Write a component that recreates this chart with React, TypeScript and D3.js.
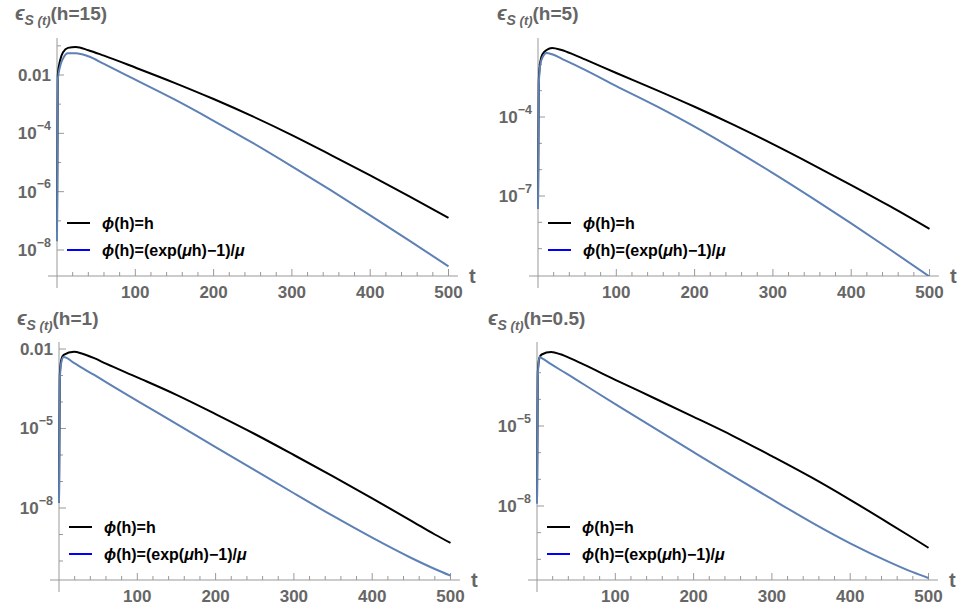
import React from 'react';
import * as d3 from 'd3';

// time samples and read-off values (error) for each panel
const T_H15 = [0, 1, 4, 8, 14, 24, 40, 60, 100, 150, 200, 250, 300, 350, 400, 450, 500];
const H15_LINEAR = [4e-8, 1e-2, 3.2e-2, 6.2e-2, 8.5e-2, 9.1e-2, 7.1e-2, 4.6e-2, 1.8e-2, 5.4e-3, 1.5e-3, 3.8e-4, 8.7e-5, 1.8e-5, 3.6e-6, 6.9e-7, 1.26e-7];
const H15_EXP = [2e-8, 6.8e-3, 2.0e-2, 3.8e-2, 5.6e-2, 5.6e-2, 4.4e-2, 2.4e-2, 6.9e-3, 1.45e-3, 2.7e-4, 4.7e-5, 7.4e-6, 1.1e-6, 1.55e-7, 2.1e-8, 2.75e-9];

const T_H5 = [0, 1, 3, 6, 11, 18, 30, 45, 60, 100, 150, 200, 250, 300, 350, 400, 450, 500];
const H5_LINEAR = [5e-8, 2.5e-3, 1.26e-2, 2.5e-2, 3.5e-2, 4.2e-2, 3.5e-2, 2.4e-2, 1.55e-2, 4.7e-3, 1.1e-3, 2.45e-4, 5.0e-5, 9.3e-6, 1.6e-6, 2.6e-7, 4.0e-8, 5.6e-9];
const H5_EXP = [3.2e-8, 1.6e-3, 1.0e-2, 1.9e-2, 2.7e-2, 2.4e-2, 1.66e-2, 1.02e-2, 6.2e-3, 1.5e-3, 2.7e-4, 4.3e-5, 5.9e-6, 7.4e-7, 8.5e-8, 9.1e-9, 9.1e-10, 8.7e-11];

const T_H1 = [0, 1, 3, 6, 19, 30, 45, 60, 100, 150, 200, 250, 300, 350, 400, 450, 480, 500];
const H1_LINEAR = [1.6e-8, 1e-3, 4e-3, 6e-3, 7.8e-3, 6.6e-3, 4.5e-3, 2.8e-3, 8.5e-4, 1.86e-4, 3.5e-5, 6.2e-6, 1.0e-6, 1.55e-7, 2.3e-8, 3.3e-9, 1.0e-9, 4.8e-10];
const H1_EXP = [1.6e-8, 6.3e-4, 3.2e-3, 5.0e-3, 3.0e-3, 1.9e-3, 1.05e-3, 5.6e-4, 1.1e-4, 1.5e-5, 2.0e-6, 2.7e-7, 3.6e-8, 5.0e-9, 7.6e-10, 1.3e-10, 5.0e-11, 2.8e-11];

const T_H05 = [0, 1, 3, 6, 18, 30, 45, 60, 100, 150, 200, 250, 300, 350, 400, 450, 480, 500];
const H05_LINEAR = [1.26e-8, 1e-3, 3.5e-3, 4.8e-3, 5.9e-3, 4.9e-3, 3.2e-3, 2.0e-3, 5.4e-4, 1.1e-4, 2.2e-5, 4.3e-6, 7.4e-7, 1.2e-7, 1.7e-8, 2.2e-9, 6.3e-10, 2.7e-10];
const H05_EXP = [1.26e-8, 6.3e-4, 3.9e-3, 3.5e-3, 2.1e-3, 1.26e-3, 6.8e-4, 3.6e-4, 6.6e-5, 8.3e-6, 1.05e-6, 1.35e-7, 1.8e-8, 2.5e-9, 4.0e-10, 7.9e-11, 3.3e-11, 2.0e-11];

const X_MAJOR = [100, 200, 300, 400, 500];
const X_MINOR = d3.range(20, 500, 20).filter(v => v % 100 !== 0);

const LEGEND_LABELS = ['linear', 'exp'];

const GRAY_TEXT = '#666';
const GRAY_AXIS = '#999';
const BLUE = '#5e81b5';
const FONT = '"Liberation Sans", Arial, sans-serif';

type PanelCfg = {
  h: string;
  t: number[];
  lin: number[];
  exp: number[];
  ax: number;      // pixel of t=0
  x500: number;    // pixel of t=500
  axisY: number;   // x axis line
  top: number;
  titleX: number;
  titleY: number;
  ref: [number, number, number, number]; // exp a -> px, exp b -> px
  major: number[];
  minor: number[];
};

const panels: PanelCfg[] = [
  { h: '15', t: T_H15, lin: H15_LINEAR, exp: H15_EXP, ax: 57, x500: 448.5, axisY: 276, top: 38, titleX: 15, titleY: 20,
    ref: [-2, 75, -8, 250], major: [-2, -4, -6, -8], minor: [-1, -3, -5, -7] },
  { h: '5', t: T_H5, lin: H5_LINEAR, exp: H5_EXP, ax: 538, x500: 929.5, axisY: 276, top: 38, titleX: 497, titleY: 20,
    ref: [-4, 117, -7, 196], major: [-4, -7], minor: [-2, -3, -5, -6, -8, -9] },
  { h: '1', t: T_H1, lin: H1_LINEAR, exp: H1_EXP, ax: 59, x500: 450.5, axisY: 580, top: 342, titleX: 17, titleY: 325,
    ref: [-2, 349, -8, 508], major: [-2, -5, -8], minor: [-3, -4, -6, -7, -9, -10] },
  { h: '0.5', t: T_H05, lin: H05_LINEAR, exp: H05_EXP, ax: 537, x500: 928.5, axisY: 580, top: 342, titleX: 488, titleY: 325,
    ref: [-5, 426, -8, 506], major: [-5, -8], minor: [-3, -4, -6, -7, -9, -10] },
];

function YLabel({ e, x, y }: { e: number; x: number; y: number }) {
  if (e === -2) {
    return <text x={x} y={y} dy="0.35em" textAnchor="end" fontSize={17}>0.01</text>;
  }
  return (
    <text x={x} y={y} dy="0.35em" textAnchor="end" fontSize={17}>
      10<tspan fontSize={12.5} dy="-0.75em">{'\u2212' + Math.abs(e)}</tspan>
    </text>
  );
}

function Panel({ p, idx }: { p: PanelCfg; idx: number }) {
  const x = d3.scaleLinear().domain([0, 500]).range([p.ax, p.x500]);
  const y = d3.scaleLog()
    .domain([Math.pow(10, p.ref[2]), Math.pow(10, p.ref[0])])
    .range([p.ref[3], p.ref[1]]);

  const line = d3.line<[number, number]>()
    .x(d => x(d[0]))
    .y(d => y(d[1]))
    .curve(d3.curveMonotoneX);

  const linPts = p.t.map((t, i) => [t, p.lin[i]] as [number, number]);
  const expPts = p.t.map((t, i) => [t, p.exp[i]] as [number, number]);
  const clipId = `clip${idx}`;
  const inRange = (e: number) => y(Math.pow(10, e)) >= p.top && y(Math.pow(10, e)) <= p.axisY;

  return (
    <g fontFamily={FONT} fontWeight="bold">
      <defs>
        <clipPath id={clipId}>
          <rect x={p.ax - 3} y={p.top - 10} width={p.x500 - p.ax + 10} height={p.axisY - p.top + 10} />
        </clipPath>
      </defs>

      {/* title */}
      <text x={p.titleX} y={p.titleY} fill={GRAY_TEXT} fontSize={19}>
        <tspan fontStyle="italic" fontSize={20}>{'\u03f5'}</tspan>
        <tspan fontSize={14} dy={5} fontStyle="italic">S<tspan fontSize={13}> (t)</tspan></tspan>
        <tspan dy={-5}>(h={p.h})</tspan>
      </text>

      {/* axes */}
      <line x1={x(-11.5)} x2={x(512)} y1={p.axisY} y2={p.axisY} stroke={GRAY_AXIS} strokeWidth={1} />
      <line x1={p.ax} x2={p.ax} y1={p.top} y2={p.axisY + 12} stroke={GRAY_AXIS} strokeWidth={1} />

      {X_MAJOR.map(v => (
        <g key={'xm' + v}>
          <line x1={x(v)} x2={x(v)} y1={p.axisY} y2={p.axisY - 7} stroke={GRAY_AXIS} />
          <text x={x(v)} y={p.axisY + 22} textAnchor="middle" fontSize={17} fill={GRAY_TEXT}>{v}</text>
        </g>
      ))}
      {X_MINOR.map(v => (
        <line key={'xn' + v} x1={x(v)} x2={x(v)} y1={p.axisY} y2={p.axisY - 4} stroke={GRAY_AXIS} />
      ))}
      <text x={x(512) + 11} y={p.axisY + 7} fontSize={20} fill={GRAY_TEXT}>t</text>

      {p.major.filter(inRange).map(e => (
        <g key={'ym' + e} fill={GRAY_TEXT}>
          <line x1={p.ax} x2={p.ax + 7} y1={y(Math.pow(10, e))} y2={y(Math.pow(10, e))} stroke={GRAY_AXIS} />
          <YLabel e={e} x={p.ax - 6} y={y(Math.pow(10, e))} />
        </g>
      ))}
      {p.minor.filter(inRange).map(e => (
        <line key={'yn' + e} x1={p.ax} x2={p.ax + 4} y1={y(Math.pow(10, e))} y2={y(Math.pow(10, e))} stroke={GRAY_AXIS} />
      ))}

      {/* curves */}
      <g clipPath={`url(#${clipId})`} fill="none" strokeWidth={2}>
        <path d={line(linPts) || ''} stroke="#000" />
        <path d={line(expPts) || ''} stroke={BLUE} />
      </g>

      {/* legend */}
      {LEGEND_LABELS.map((k, i) => {
        const ly = p.axisY - 53 + i * 27;
        return (
          <g key={k}>
            <line x1={p.ax + 10} x2={p.ax + 33} y1={ly} y2={ly} stroke={i === 0 ? '#000' : '#0000ff'} strokeWidth={2} />
            <text x={p.ax + 45} y={ly} dy="0.35em" fontSize={16} fill="#000">
              {k === 'linear' ? (
                <><tspan fontStyle="italic">{'\u03d5'}</tspan>(h)=h</>
              ) : (
                <><tspan fontStyle="italic">{'\u03d5'}</tspan>(h)=(exp(<tspan fontStyle="italic">{'\u03bc'}</tspan>h){'\u2212'}1)/<tspan fontStyle="italic">{'\u03bc'}</tspan></>
              )}
            </text>
          </g>
        );
      })}
    </g>
  );
}

export default function App() {
  return (
    <svg width={957} height={610} style={{ position: 'absolute', left: 0, top: 0, background: '#fff' }}>
      {panels.map((p, i) => <Panel key={p.h} p={p} idx={i} />)}
    </svg>
  );
}
